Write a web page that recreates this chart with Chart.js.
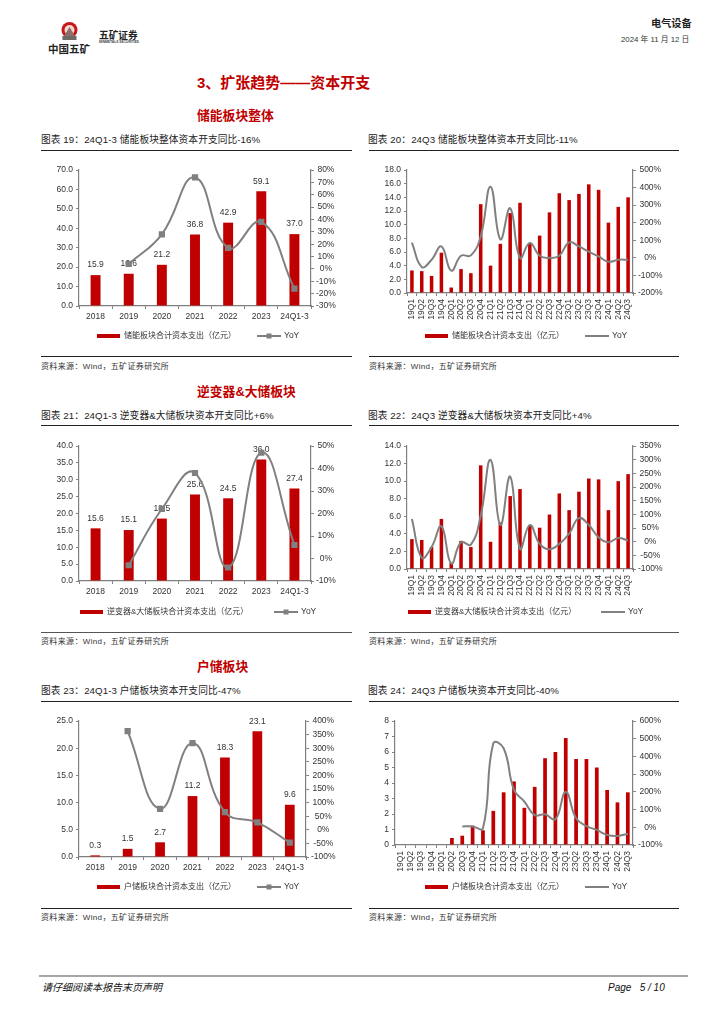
<!DOCTYPE html>
<html>
<head>
<meta charset="utf-8">
<script src="https://cdn.jsdelivr.net/npm/chart.js@4/dist/chart.umd.min.js"></script>
<style>
  html, body { margin: 0; padding: 0; background: #fff; }
  body { width: 724px; height: 1024px; position: relative; overflow: hidden;
         font-family: "Liberation Sans", "Noto Sans CJK SC", sans-serif; color: #222; }
  .t { position: absolute; white-space: nowrap; line-height: 1; }
  .head { color: #c00000; font-weight: 700; font-size: 12.8px; }
  .title { font-size: 9.7px; color: #222; letter-spacing: 0.1px; }
  .src { font-size: 8px; color: #333; letter-spacing: 0.35px; }
  .rule { position: absolute; background: #222; height: 1px; }
  canvas { position: absolute; }
</style>
</head>
<body>

<!-- page header -->
<svg style="position:absolute;left:61px;top:22px" width="17" height="19" viewBox="0 0 17 19">
  <circle cx="8.5" cy="8" r="8" fill="#c8161d"/>
  <circle cx="8.5" cy="8" r="5" fill="#f3d9d0"/>
  <path d="M8.5 5 L14 14 L3 14 Z" fill="#8c6f66"/>
  <rect x="1.5" y="14" width="14" height="4" fill="#6e6a66"/>
</svg>
<div class="t" style="left:48px;top:44px;font-size:10.5px;font-weight:700;color:#222">中国五矿</div>
<div class="t" style="left:99px;top:31px;font-size:9.7px;font-weight:700;color:#222">五矿证券</div>
<div class="t" style="left:99px;top:41px;font-size:3.3px;font-weight:700;color:#444">MINMETALS SECURITIES</div>
<div class="t" style="left:651px;top:19px;font-size:10.2px;font-weight:700;color:#222">电气设备</div>
<div class="t" style="left:621px;top:36px;font-size:7.8px;color:#333">2024 年 11 月 12 日</div>

<div class="t" style="left:197px;top:75px;font-size:15px;font-weight:700;color:#c00000">3、扩张趋势——资本开支</div>
<div class="t head" style="left:197px;top:110px">储能板块整体</div>
<div class="t head" style="left:197px;top:386px">逆变器&amp;大储板块</div>
<div class="t head" style="left:197px;top:661px">户储板块</div>

<!-- row 1 -->
<div class="t title" style="left:41px;top:135px">图表 19：24Q1-3 储能板块整体资本开支同比-16%</div>
<div class="rule" style="left:41px;top:150px;width:311px"></div>
<canvas id="c19" width="311" height="195" style="left:41px;top:155px"></canvas>
<div class="rule" style="left:41px;top:356px;width:311px"></div>
<div class="t src" style="left:41px;top:363px">资料来源：Wind，五矿证券研究所</div>

<div class="t title" style="left:368px;top:135px">图表 20：24Q3 储能板块整体资本开支同比-11%</div>
<div class="rule" style="left:369px;top:150px;width:310px"></div>
<canvas id="c20" width="310" height="195" style="left:369px;top:155px"></canvas>
<div class="rule" style="left:369px;top:356px;width:310px"></div>
<div class="t src" style="left:369px;top:363px">资料来源：Wind，五矿证券研究所</div>

<!-- row 2 -->
<div class="t title" style="left:41px;top:411px">图表 21：24Q1-3 逆变器&amp;大储板块资本开支同比+6%</div>
<div class="rule" style="left:41px;top:425px;width:311px"></div>
<canvas id="c21" width="311" height="195" style="left:41px;top:431px"></canvas>
<div class="rule" style="left:41px;top:632px;width:311px;background:#555"></div>
<div class="t src" style="left:41px;top:638px">资料来源：Wind，五矿证券研究所</div>

<div class="t title" style="left:368px;top:411px">图表 22：24Q3 逆变器&amp;大储板块资本开支同比+4%</div>
<div class="rule" style="left:369px;top:425px;width:310px"></div>
<canvas id="c22" width="310" height="195" style="left:369px;top:431px"></canvas>
<div class="rule" style="left:369px;top:632px;width:310px;background:#555"></div>
<div class="t src" style="left:369px;top:638px">资料来源：Wind，五矿证券研究所</div>

<!-- row 3 -->
<div class="t title" style="left:41px;top:686px">图表 23：24Q1-3 户储板块资本开支同比-47%</div>
<div class="rule" style="left:41px;top:701px;width:311px"></div>
<canvas id="c23" width="311" height="195" style="left:41px;top:706px"></canvas>
<div class="rule" style="left:41px;top:908px;width:311px"></div>
<div class="t src" style="left:41px;top:914px">资料来源：Wind，五矿证券研究所</div>

<div class="t title" style="left:368px;top:686px">图表 24：24Q3 户储板块资本开支同比-40%</div>
<div class="rule" style="left:369px;top:701px;width:310px"></div>
<canvas id="c24" width="310" height="195" style="left:369px;top:706px"></canvas>
<div class="rule" style="left:369px;top:908px;width:310px"></div>
<div class="t src" style="left:369px;top:914px">资料来源：Wind，五矿证券研究所</div>

<!-- footer -->
<div style="position:absolute;left:39px;top:975px;width:649px;height:2px;background:#a6a6a6"></div>
<div class="t" style="left:42px;top:983px;font-size:10px;font-style:italic;color:#111">请仔细阅读本报告末页声明</div>
<div class="t" style="left:608px;top:983px;font-size:10px;font-style:italic;color:#111;white-space:pre">Page   5 / 10</div>

<script>
  /* categories */
  var years = ['2018', '2019', '2020', '2021', '2022', '2023', '24Q1-3'];
  var quarters = ['19Q1', '19Q2', '19Q3', '19Q4', '20Q1', '20Q2', '20Q3', '20Q4',
    '21Q1', '21Q2', '21Q3', '21Q4', '22Q1', '22Q2', '22Q3', '22Q4',
    '23Q1', '23Q2', '23Q3', '23Q4', '24Q1', '24Q2', '24Q3'];

  /* bars, in 亿元 */
  var capex19 = [15.9, 16.6, 21.2, 36.8, 42.9, 59.1, 37.0];
  var capex20 = [3.3, 3.2, 2.5, 5.9, 0.8, 3.5, 2.9, 13.0, 4.0, 7.2, 11.7, 13.2,
    7.2, 8.4, 11.8, 14.6, 13.6, 14.5, 15.9, 15.1, 10.3, 12.6, 14.0];
  var capex21 = [15.6, 15.1, 18.5, 25.6, 24.5, 36.0, 27.4];
  var capex22 = [3.4, 3.3, 2.5, 5.7, 0.7, 3.2, 2.5, 11.8, 3.1, 5.3, 8.3, 9.1,
    4.9, 4.7, 6.2, 8.6, 6.7, 8.8, 10.3, 10.2, 6.7, 10.0, 10.8];
  var capex23 = [0.3, 1.5, 2.7, 11.2, 18.3, 23.1, 9.6];
  var capex24 = [null, null, null, null, null, 0.45, 0.6, 1.25, 0.95, 2.2, 3.4, 4.1,
    2.4, 3.75, 5.6, 6.0, 6.9, 5.55, 5.55, 5.0, 3.55, 2.75, 3.4];

  /* YoY lines, in % */
  var yoy19 = [null, 4, 28, 74, 17, 38, -16];
  var yoy20 = [87, -52, -11, 65, -73, 12, 14, 122, 405, 106, 282, -1,
    84, 12, 0, 12, 88, 65, 35, 8, -22, -11, -11];
  var yoy21 = [null, -3, 22, 38, -4, 47, 6];
  var yoy22 = [83, -59, -20, 56, -80, -2, -11, 95, 299, 61, 238, -26,
    61, -8, -28, -8, 29, 86, 61, 16, -2, 13, 4];
  var yoy23 = [null, 363, 77, 319, 65, 27, -47];
  var yoy24 = [null, null, null, null, null, null, 5, 5, -6, 474, 446, 211,
    145, 69, 73, 45, 199, 51, 7, -15, -43, -49, -36];

  /* legend names */
  var name19 = '储能板块合计资本支出（亿元）';
  var name21 = '逆变器&大储板块合计资本支出（亿元）';
  var name23 = '户储板块合计资本支出（亿元）';

  var RED = '#c00000';
  var GREY = '#808080';
  var TEXT = '#333333';
  var FONT = '"Liberation Sans", "Noto Sans CJK SC", sans-serif';

  // value labels above the bars, drawn before the line so the line sits on top
  var barLabels = {
    id: 'barLabels',
    afterDatasetDraw: function (chart, args, opts) {
      if (args.index !== 0 || !opts.show) return;
      var ctx = chart.ctx;
      ctx.save();
      ctx.font = '8.5px ' + FONT;
      ctx.fillStyle = TEXT;
      ctx.textAlign = 'center';
      ctx.textBaseline = 'middle';
      args.meta.data.forEach(function (bar, i) {
        ctx.fillText(chart.data.datasets[0].data[i].toFixed(1), bar.x, bar.y - 10);
      });
      ctx.restore();
    }
  };

  // legend row under the plot, placed by hand to sit where the report has it
  var legendRow = {
    id: 'legendRow',
    afterDraw: function (chart, args, opts) {
      var ctx = chart.ctx;
      var y = opts.y;
      ctx.save();
      ctx.fillStyle = RED;
      ctx.fillRect(opts.bar, y - 2, 23, 4);
      ctx.font = '8px ' + FONT;
      ctx.textBaseline = 'middle';
      ctx.fillStyle = TEXT;
      ctx.fillText(chart.data.datasets[0].label, opts.bar + 27, y);
      ctx.strokeStyle = GREY;
      ctx.lineWidth = 2;
      ctx.beginPath();
      ctx.moveTo(opts.line, y);
      ctx.lineTo(opts.line + 24, y);
      ctx.stroke();
      if (opts.marker) {
        ctx.fillStyle = GREY;
        ctx.fillRect(opts.line + 9.5, y - 2.5, 5, 5);
      }
      ctx.fillStyle = TEXT;
      ctx.font = '8.5px ' + FONT;
      ctx.fillText('YoY', opts.line + 27, y);
      ctx.restore();
    }
  };

  function makeChart(id, labels, bars, line, name, o) {
    var quarterly = labels === quarters;
    var w = document.getElementById(id).width;
    var h = document.getElementById(id).height;
    var axisFont = { family: FONT, size: 8.5 };

    return new Chart(document.getElementById(id), {
      type: 'bar',
      data: {
        labels: labels,
        datasets: [{
          type: 'bar',
          label: name,
          data: bars,
          backgroundColor: RED,
          categoryPercentage: 1,
          barPercentage: quarterly ? 0.36 : 0.3,
          yAxisID: 'y',
          order: 2,
        }, {
          type: 'line',
          label: 'YoY',
          data: line,
          borderColor: GREY,
          backgroundColor: GREY,
          borderWidth: 2,
          tension: 0.45,
          pointStyle: 'rect',
          pointRadius: quarterly ? 0 : 3,
          clip: false,
          yAxisID: 'y2',
          order: 1,
        }],
      },
      options: {
        responsive: false,
        animation: false,
        layout: { padding: { top: o.top, bottom: 0, left: 0, right: 0 } },
        plugins: {
          legend: { display: false },
          tooltip: { enabled: false },
          barLabels: { show: !quarterly },
          legendRow: { y: o.legendY, bar: o.legendBar, line: o.legendLine, marker: !quarterly },
        },
        scales: {
          x: {
            offset: true,
            afterFit: function (s) { s.height = h - o.bottom; },
            border: { color: GREY, width: 1.2 },
            grid: { drawOnChartArea: false, color: GREY, tickLength: 3, offset: true },
            ticks: {
              color: TEXT, font: axisFont, padding: 3, autoSkip: false,
              maxRotation: quarterly ? 90 : 0, minRotation: quarterly ? 90 : 0,
            },
          },
          y: {
            position: 'left',
            min: o.left[0], max: o.left[1],
            afterFit: function (s) { s.width = o.plotLeft; },
            border: { color: GREY, width: 1.2 },
            grid: { drawOnChartArea: false, color: GREY, tickLength: 3 },
            ticks: {
              color: TEXT, font: axisFont, padding: 3, stepSize: o.left[2], autoSkip: false,
              callback: function (v) { return o.left[3] ? v.toFixed(o.left[3]) : String(v); },
            },
          },
          y2: {
            position: 'right',
            min: o.right[0], max: o.right[1],
            afterFit: function (s) { s.width = w - o.plotRight; },
            border: { color: GREY, width: 1.2 },
            grid: { drawOnChartArea: false, color: GREY, tickLength: 3 },
            ticks: {
              color: TEXT, font: axisFont, padding: 2, stepSize: o.right[2], crossAlign: 'center', autoSkip: false,
              callback: function (v) { return v + '%'; },
            },
          },
        },
      },
      plugins: [barLabels, legendRow],
    });
  }

  // plot box is given relative to each canvas; the last number of left is its decimals
  makeChart('c19', years, capex19, yoy19, name19, {
    top: 15, bottom: 151, plotLeft: 38, plotRight: 270, legendY: 181, legendBar: 56, legendLine: 216,
    left: [0, 70, 10, 1], right: [-30, 80, 10],
  });
  makeChart('c20', quarters, capex20, yoy20, name19, {
    top: 15, bottom: 138, plotLeft: 38, plotRight: 264, legendY: 181, legendBar: 56, legendLine: 216,
    left: [0, 18, 2, 1], right: [-200, 500, 100],
  });
  makeChart('c21', years, capex21, yoy21, name21, {
    top: 15, bottom: 150, plotLeft: 38, plotRight: 270, legendY: 181, legendBar: 39, legendLine: 233,
    left: [0, 40, 5, 1], right: [-10, 50, 10],
  });
  makeChart('c22', quarters, capex22, yoy22, name21, {
    top: 15, bottom: 138, plotLeft: 38, plotRight: 264, legendY: 181, legendBar: 39, legendLine: 232,
    left: [0, 14, 2, 1], right: [-100, 350, 50],
  });
  makeChart('c23', years, capex23, yoy23, name23, {
    top: 15, bottom: 151, plotLeft: 38, plotRight: 265, legendY: 181, legendBar: 56, legendLine: 216,
    left: [0, 25, 5, 1], right: [-100, 400, 50],
  });
  makeChart('c24', quarters, capex24, yoy24, name23, {
    top: 15, bottom: 139, plotLeft: 26, plotRight: 264, legendY: 181, legendBar: 56, legendLine: 216,
    left: [0, 8, 1, 0], right: [-100, 600, 100],
  });
</script>
</body>
</html>
